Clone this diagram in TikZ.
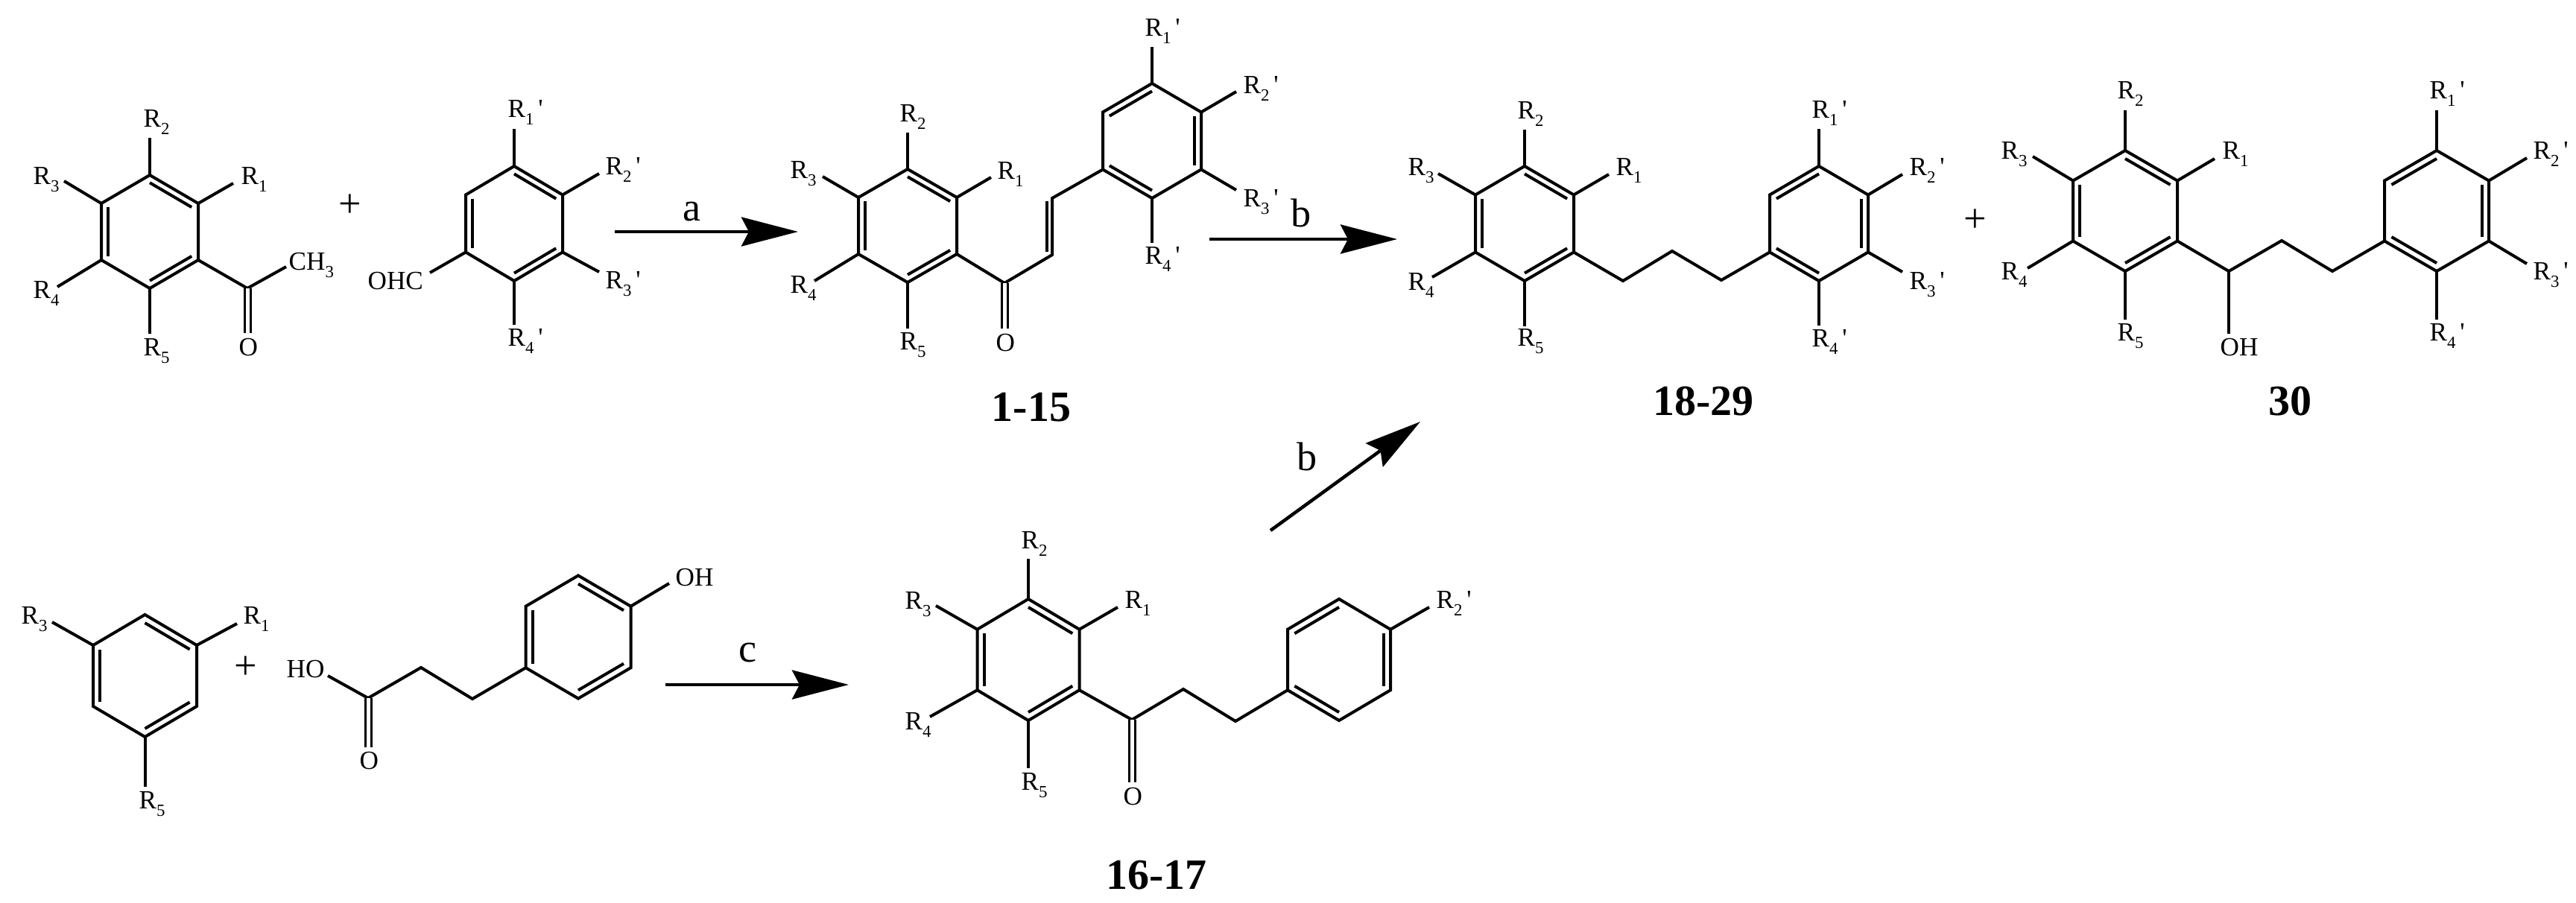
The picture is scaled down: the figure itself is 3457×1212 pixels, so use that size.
\documentclass[tikz,border=0pt]{standalone}
\usepackage{fontspec}
\setmainfont{Liberation Serif}
\usetikzlibrary{arrows.meta,calc}

\tikzset{
  bond/.style={line width=0.04cm},
  dblbond/.style={line width=0.03cm,double,double distance=0.05cm},
  lab/.style={anchor=base west,inner sep=0pt,font=\fontsize{10}{11}\selectfont},
  reagent/.style={inner sep=0pt,font=\fontsize{15.4}{18}\selectfont},
  cpd/.style={inner sep=0pt,font=\fontsize{16.5}{20}\selectfont\bfseries},
  rxn/.style={line width=0.045cm,-{Stealth[length=0.76cm,width=0.39cm,inset=0.1cm]}}
}
\newcommand{\subfont}{\fontsize{6.5}{7}\selectfont}
\newcommand{\Rs}[1]{R\raisebox{-0.1cm}{\subfont #1}}
\newcommand{\Rp}[1]{R\raisebox{-0.1cm}{\subfont #1}\,\textquotesingle}
\newcommand{\benzene}[6]{%
  \coordinate (#1c) at (#2,#3);
  \coordinate (#11) at (#2,#3-#5);
  \coordinate (#12) at (#2+#4,#3-#5/2);
  \coordinate (#13) at (#2+#4,#3+#5/2);
  \coordinate (#14) at (#2,#3+#5);
  \coordinate (#15) at (#2-#4,#3+#5/2);
  \coordinate (#16) at (#2-#4,#3-#5/2);
  \draw[bond] (#11) -- (#12) -- (#13) -- (#14) -- (#15) -- (#16) -- cycle;
  \foreach \p/\q in {#6} {\draw[bond] ($(#1\p)!0.135!(#1c)$) -- ($(#1\q)!0.135!(#1c)$);}
}
\newcommand{\subst}[7]{%
  \coordinate (#2e) at (#3,#4);
  \draw[bond] (#1) -- (#2e);
  \node[lab] (#2) at (#5,#6) {#7};
}

\begin{document}
\begin{tikzpicture}[x=0.01cm,y=-0.01cm]
  \useasboundingbox (0,0) rectangle (3457,1212);

  \benzene{A}{201}{311}{65}{76}{1/2,3/4,5/6}
  \subst{A2}{Ar1}{313}{246}{323}{247}{\Rs{1}}
  \subst{A1}{Ar2}{201}{185}{192}{170}{\Rs{2}}
  \subst{A6}{Ar3}{86}{243}{44}{247}{\Rs{3}}
  \subst{A5}{Ar4}{77}{385}{44}{400}{\Rs{4}}
  \subst{A4}{Ar5}{201}{448}{192}{477}{\Rs{5}}
  \coordinate (Ak) at (332,387);
  \draw[bond] (A3) -- (Ak);
  \subst{Ak}{Ame}{384}{358}{387}{362}{CH\raisebox{-0.1cm}{\subfont 3}}
  \coordinate (Aoe) at (332,447);
  \draw[dblbond] (Ak) -- (Aoe);
  \node[lab] (Ao) at (320,477) {O};
  \node[reagent] (plusa) at (470,276) {+};

  \benzene{B}{690}{300}{65}{77}{1/2,3/4,5/6}
  \subst{B1}{Br1}{690}{173}{681}{157}{\Rp{1}}
  \subst{B2}{Br2}{804}{233}{812}{234}{\Rp{2}}
  \subst{B3}{Br3}{804}{365}{812}{387}{\Rp{3}}
  \subst{B4}{Br4}{690}{436}{681}{464}{\Rp{4}}
  \subst{B5}{Bcho}{577}{366}{493}{388}{OHC}

  \coordinate (as) at (825,311);
  \coordinate (ae) at (1071,311);
  \draw[rxn] (as) -- (ae);
  \node[reagent] (la) at (929,284) {a};

  \benzene{C}{1218}{303}{66}{76}{1/2,3/4,5/6}
  \subst{C2}{Cr1}{1330}{238}{1338}{240}{\Rs{1}}
  \subst{C1}{Cr2}{1218}{178}{1207}{163}{\Rs{2}}
  \subst{C6}{Cr3}{1104}{237}{1060}{239}{\Rs{3}}
  \subst{C5}{Cr4}{1093}{377}{1060}{393}{\Rs{4}}
  \subst{C4}{Cr5}{1218}{441}{1207}{469}{\Rs{5}}
  \benzene{K}{1546}{189}{66}{77}{6/1,2/3,4/5}
  \subst{K1}{Kr1}{1546}{63}{1536}{48}{\Rp{1}}
  \subst{K2}{Kr2}{1659}{123}{1668}{125}{\Rp{2}}
  \subst{K3}{Kr3}{1659}{255}{1668}{277}{\Rp{3}}
  \subst{K4}{Kr4}{1546}{326}{1536}{354}{\Rp{4}}
  \coordinate (Ck) at (1348,380);
  \coordinate (Cb) at (1412,342);
  \coordinate (Cd) at (1412,266);
  \draw[bond] (C3) -- (Ck) -- (Cb) -- (Cd) -- (K5);
  \draw[bond] ($(Cb)+(-7,-4)$) -- ($(Cd)+(-7,4)$);
  \coordinate (Coe) at (1348,441);
  \draw[dblbond] (Ck) -- (Coe);
  \node[lab] (Co) at (1336,471) {O};
  \node[cpd] (ca) at (1384,547) {1-15};

  \coordinate (bs) at (1623,321);
  \coordinate (be) at (1875,321);
  \draw[rxn] (bs) -- (be);
  \node[reagent] (lb) at (1746,286) {b};

  \benzene{D}{2046}{300}{66}{77}{1/2,3/4,5/6}
  \subst{D2}{Dr1}{2159}{234}{2168}{235}{\Rs{1}}
  \subst{D1}{Dr2}{2046}{174}{2036}{159}{\Rs{2}}
  \subst{D6}{Dr3}{1930}{233}{1889}{235}{\Rs{3}}
  \subst{D5}{Dr4}{1922}{372}{1889}{389}{\Rs{4}}
  \subst{D4}{Dr5}{2046}{438}{2036}{464}{\Rs{5}}
  \benzene{L}{2441}{300}{66}{77}{6/1,2/3,4/5}
  \subst{L1}{Lr1}{2441}{173}{2431}{158}{\Rp{1}}
  \subst{L2}{Lr2}{2553}{234}{2562}{235}{\Rp{2}}
  \subst{L3}{Lr3}{2553}{365}{2562}{388}{\Rp{3}}
  \subst{L4}{Lr4}{2441}{437}{2431}{465}{\Rp{4}}
  \coordinate (Da) at (2178,377);
  \coordinate (Db) at (2244,337);
  \coordinate (Dd) at (2310,376);
  \draw[bond] (D3) -- (Da) -- (Db) -- (Dd) -- (L5);
  \node[cpd] (cb) at (2286,538) {18-29};
  \node[reagent] (plusb) at (2651,296) {+};

  \benzene{E}{2852}{283}{70}{81}{1/2,3/4,5/6}
  \subst{E2}{Er1}{2972}{213}{2982}{213}{\Rs{1}}
  \subst{E1}{Er2}{2852}{148}{2841}{132}{\Rs{2}}
  \subst{E6}{Er3}{2728}{210}{2685}{213}{\Rs{3}}
  \subst{E5}{Er4}{2721}{360}{2685}{375}{\Rs{4}}
  \subst{E4}{Er5}{2852}{429}{2841}{457}{\Rs{5}}
  \benzene{M}{3270}{283}{70}{81}{6/1,2/3,4/5}
  \subst{M1}{Mr1}{3270}{148}{3260}{132}{\Rp{1}}
  \subst{M2}{Mr2}{3391}{212}{3399}{213}{\Rp{2}}
  \subst{M3}{Mr3}{3391}{354}{3399}{375}{\Rp{3}}
  \subst{M4}{Mr4}{3270}{429}{3260}{457}{\Rp{4}}
  \coordinate (Ea) at (2991,364);
  \coordinate (Eb) at (3062,323);
  \coordinate (Ed) at (3130,364);
  \draw[bond] (E3) -- (Ea) -- (Eb) -- (Ed) -- (M5);
  \subst{Ea}{Eoh}{2991}{448}{2979}{477}{OH}
  \node[cpd] (cc) at (3073,538) {30};

  \benzene{F}{194.5}{907}{69.5}{82}{1/2,3/4,5/6}
  \subst{F2}{Fr1}{318}{837}{326}{837}{\Rs{1}}
  \subst{F6}{Fr3}{70}{835}{28}{837}{\Rs{3}}
  \subst{F4}{Fr5}{194.5}{1056}{186}{1085}{\Rs{5}}
  \node[reagent] (plusc) at (330,896) {+};

  \benzene{G}{776}{855}{70.5}{82.5}{1/2,3/4,5/6}
  \subst{G2}{Goh}{898}{783}{906}{786}{OH}
  \coordinate (Gk) at (494,937);
  \coordinate (Gb) at (565,896);
  \coordinate (Gd) at (634,938);
  \draw[bond] (Gk) -- (Gb) -- (Gd) -- (G5);
  \subst{Gk}{Gho}{440}{907}{384}{909}{HO}
  \coordinate (Goe) at (494,1003);
  \draw[dblbond] (Gk) -- (Goe);
  \node[lab] (Go) at (482,1032) {O};

  \coordinate (cs) at (893,919);
  \coordinate (ce) at (1139,919);
  \draw[rxn] (cs) -- (ce);
  \node[reagent] (lc) at (1004,876) {c};

  \benzene{H}{1380}{885.5}{68.5}{81.5}{1/2,3/4,5/6}
  \subst{H2}{Hr1}{1500}{815}{1509}{816}{\Rs{1}}
  \subst{H1}{Hr2}{1380}{750}{1370}{736}{\Rs{2}}
  \subst{H6}{Hr3}{1256}{813}{1214}{817}{\Rs{3}}
  \subst{H5}{Hr4}{1248}{962}{1214}{979}{\Rs{4}}
  \subst{H4}{Hr5}{1380}{1031}{1370}{1060}{\Rs{5}}
  \benzene{N}{1797}{885.5}{69}{81.5}{6/1,2/3,4/5}
  \subst{N2}{Nr2}{1918}{815}{1927}{816}{\Rp{2}}
  \coordinate (Hk) at (1519,966);
  \coordinate (Hb) at (1588,925);
  \coordinate (Hd) at (1658,968);
  \draw[bond] (H3) -- (Hk) -- (Hb) -- (Hd) -- (N5);
  \coordinate (Hoe) at (1519,1050);
  \draw[dblbond] (Hk) -- (Hoe);
  \node[lab] (Ho) at (1507,1080) {O};
  \node[cpd] (cd) at (1552,1175) {16-17};

  \coordinate (ds) at (1705,712);
  \coordinate (de) at (1906,566);
  \draw[rxn] (ds) -- (de);
  \node[reagent] (ld) at (1754,613) {b};
\end{tikzpicture}
\end{document}
